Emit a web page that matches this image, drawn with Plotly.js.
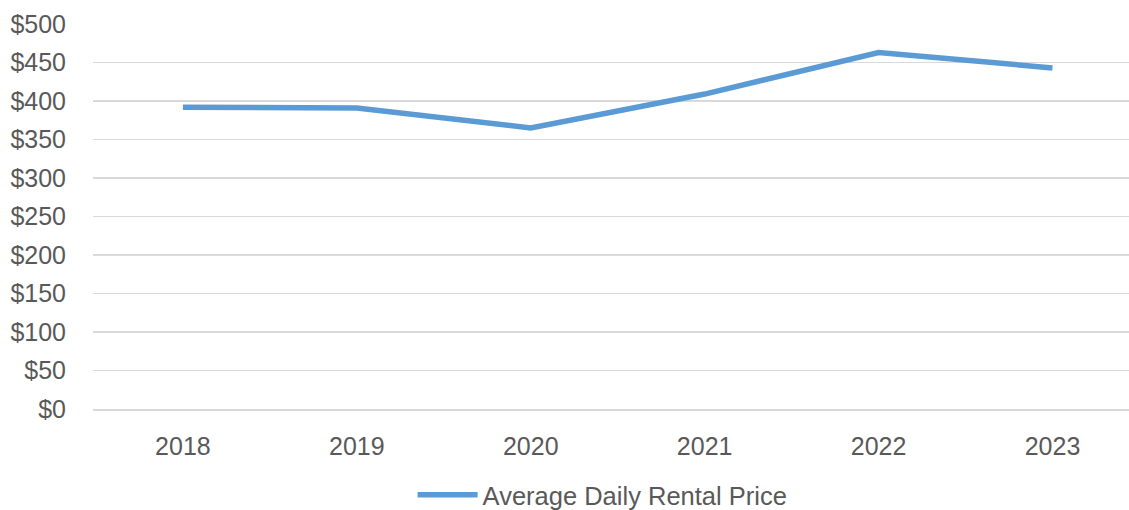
<!DOCTYPE html>
<html>
<head>
<meta charset="utf-8">
<script src="https://cdn.plot.ly/plotly-3.0.1.min.js"></script>
<style>
  html, body { margin: 0; padding: 0; background: #fff; }
  #chart { width: 1129px; height: 510px; }
</style>
</head>
<body>
<div id="chart"></div>
<script>
const years = ["2018", "2019", "2020", "2021", "2022", "2023"];
const avgDailyRentalPrice = [392, 391, 365, 409, 463, 443];
const seriesName = "Average Daily Rental Price";
const yTickValues = [0, 50, 100, 150, 200, 250, 300, 350, 400, 450, 500];
const yTickLabels = ["$0", "$50", "$100", "$150", "$200", "$250", "$300", "$350", "$400", "$450", "$500"];

const textColor = "#595959";
const gridColor = "#d9d9d9";
const lineColor = "#5b9bd5";
const fontFamily = "Liberation Sans, Arial, sans-serif";

const trace = {
  type: "scatter",
  mode: "lines",
  x: years,
  y: avgDailyRentalPrice,
  name: seriesName,
  line: { color: lineColor, width: 5.5, shape: "linear" },
  showlegend: true,
  hoverinfo: "x+y"
};

const layout = {
  width: 1129,
  height: 510,
  paper_bgcolor: "#ffffff",
  plot_bgcolor: "#ffffff",
  font: { family: fontFamily, size: 25, color: textColor },
  margin: { l: 93, r: 0, t: 24, b: 101, pad: 0, autoexpand: false },
  showlegend: true,
  legend: {
    orientation: "h",
    x: 0.3085,
    xanchor: "left",
    yref: "container",
    y: 0.029,
    yanchor: "middle",
    font: { family: fontFamily, size: 25.5, color: textColor },
    itemwidth: 60,
    bgcolor: "rgba(0,0,0,0)"
  },
  xaxis: {
    type: "category",
    categoryorder: "array",
    categoryarray: years,
    range: [-0.517, 5.44],
    showgrid: false,
    zeroline: false,
    showline: true,
    linecolor: gridColor,
    linewidth: 1.5,
    ticks: "",
    ticklabelstandoff: 14,
    tickfont: { family: fontFamily, size: 25, color: textColor },
    fixedrange: true
  },
  yaxis: {
    range: [0, 500],
    tickmode: "array",
    tickvals: yTickValues,
    ticktext: yTickLabels,
    showgrid: true,
    gridcolor: gridColor,
    gridwidth: 1.5,
    zeroline: false,
    showline: false,
    ticks: "",
    ticklabelstandoff: 26,
    tickfont: { family: fontFamily, size: 25, color: textColor },
    fixedrange: true
  }
};

Plotly.newPlot("chart", [trace], layout, { displayModeBar: false, staticPlot: true });
</script>
</body>
</html>
